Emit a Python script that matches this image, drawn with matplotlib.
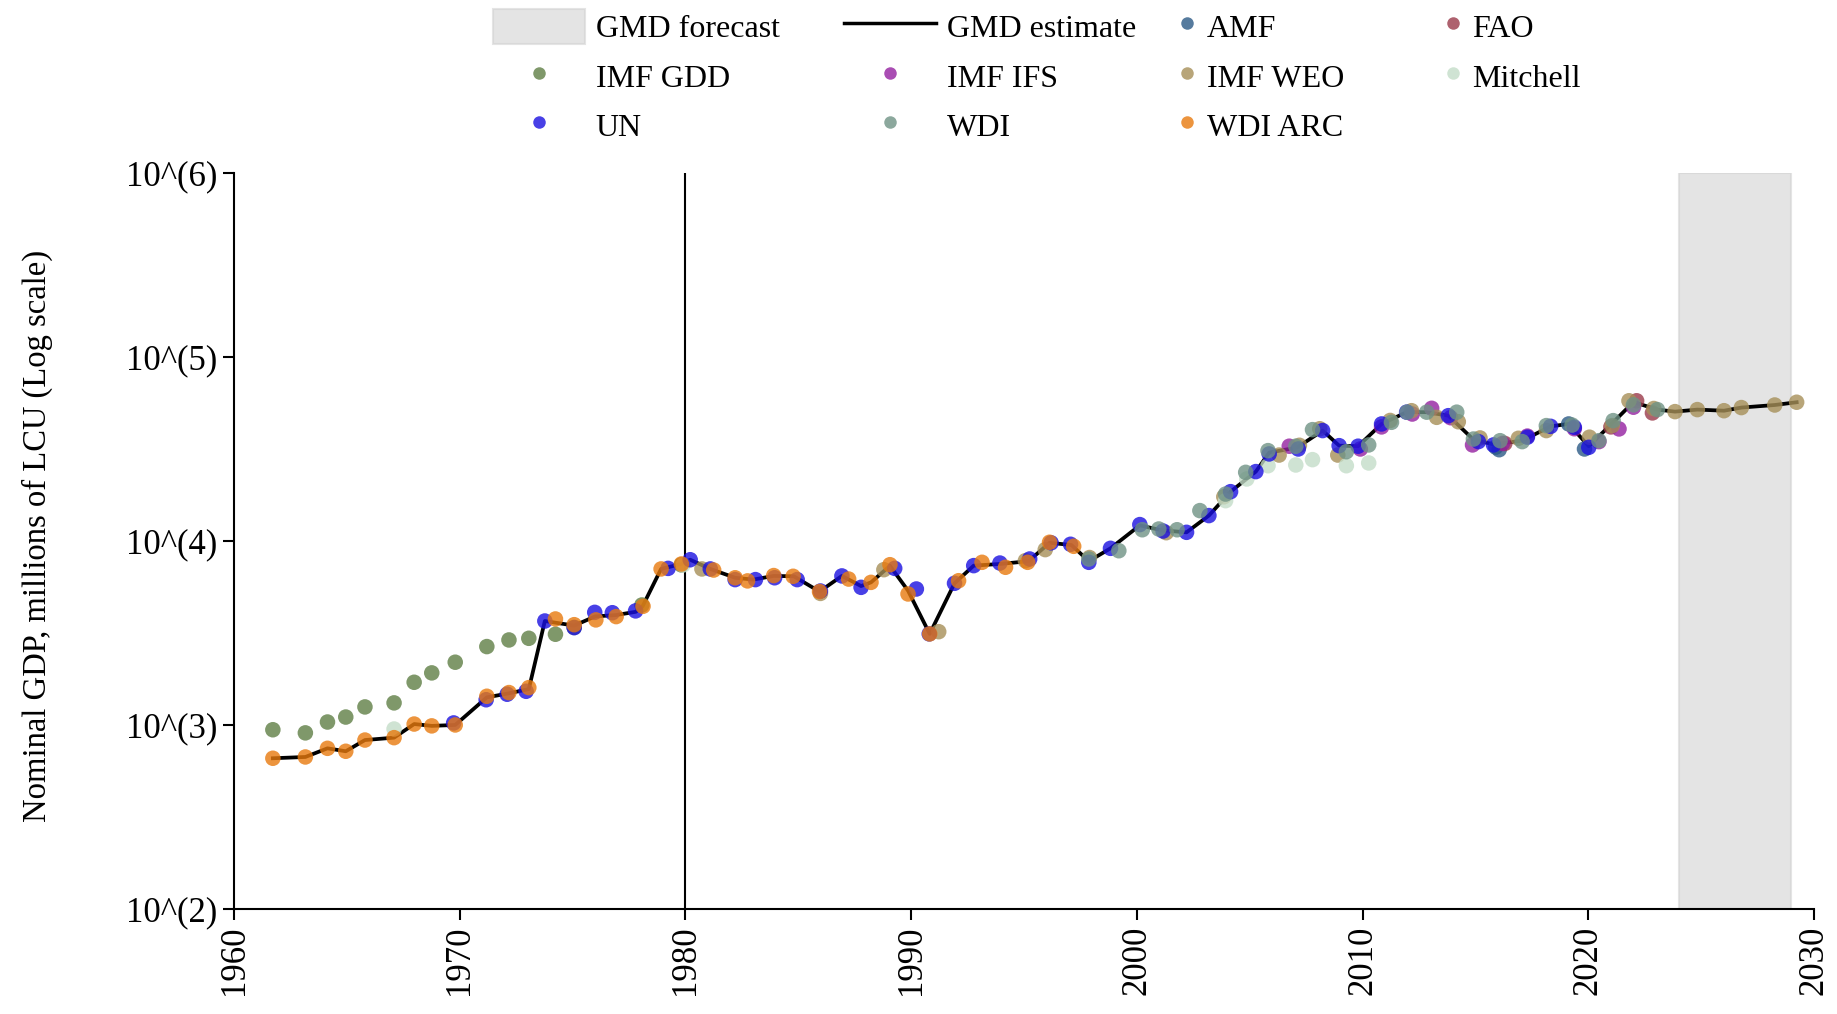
import numpy as np
import matplotlib
matplotlib.use("Agg")
import matplotlib.pyplot as plt
from matplotlib.lines import Line2D
from matplotlib.patches import Patch
from matplotlib.ticker import FixedLocator, NullLocator, FixedFormatter

plt.rcParams['font.family'] = ['Liberation Serif', 'DejaVu Serif']

# ---------------- data (x = year, y = log10 of nominal GDP, millions of LCU) ----------------
gmd_year = [1961.72, 1963.16, 1964.14, 1964.95, 1965.8, 1967.09, 1967.98, 1968.76, 1969.8, 1971.2,
            1972.18, 1973.06, 1973.77, 1975.07, 1976.0, 1976.9, 1977.8, 1978.1, 1978.92, 1979.82,
            1980.21, 1981.1, 1982.2, 1983.0, 1983.91, 1984.8, 1985.94, 1986.93, 1987.78, 1988.22,
            1989.06, 1989.86, 1990.82, 1991.92, 1992.77, 1993.93, 1995.2, 1996.13, 1997.1, 1997.87,
            1998.83, 2000.13, 2001.1, 2002.2, 2003.19, 2004.15, 2005.27, 2005.86, 2007.1, 2008.23,
            2008.96, 2009.8, 2010.84, 2011.95, 2012.84, 2013.8, 2014.91, 2015.8, 2017.07, 2018.33,
            2019.13, 2020.02, 2021.1, 2022.0, 2023.06, 2023.84, 2024.83, 2026.01, 2026.78, 2028.26,
            2029.23]
gmd_log10 = [2.819, 2.826, 2.873, 2.857, 2.918, 2.931, 3.005, 2.995, 3.0, 3.15,
             3.172, 3.195, 3.565, 3.54, 3.59, 3.597, 3.615, 3.645, 3.848, 3.875,
             3.898, 3.848, 3.80, 3.79, 3.81, 3.808, 3.725, 3.81, 3.755, 3.775,
             3.865, 3.73, 3.495, 3.77, 3.866, 3.875, 3.89, 3.99, 3.978, 3.89,
             3.96, 4.085, 4.058, 4.047, 4.138, 4.268, 4.377, 4.48, 4.508, 4.6,
             4.518, 4.515, 4.636, 4.70, 4.70, 4.681, 4.551, 4.525, 4.545, 4.623,
             4.636, 4.515, 4.645, 4.755, 4.714, 4.703, 4.714, 4.708, 4.725, 4.739,
             4.754]

amf_year = [2015.9, 2016.05, 2019.13, 2019.83]
amf_log10 = [4.51, 4.496, 4.636, 4.50]

fao_year = [2016.3, 2021.0, 2022.14, 2022.84]
fao_log10 = [4.53, 4.62, 4.762, 4.696]

imfgdd_year = [1961.72, 1963.16, 1964.14, 1964.95, 1965.8, 1967.09, 1967.98, 1968.76, 1969.8, 1971.2,
               1972.18, 1973.06, 1974.24, 1975.07, 1978.07, 1979.82]
imfgdd_log10 = [2.974, 2.957, 3.016, 3.043, 3.098, 3.12, 3.232, 3.283, 3.341, 3.426,
                3.462, 3.471, 3.493, 3.53, 3.652, 3.87]

imfifs_year = [2006.75, 2009.9, 2010.84, 2012.2, 2013.06, 2013.9, 2014.87, 2016.2, 2017.3, 2019.38,
               2020.47, 2021.36, 2022.0]
imfifs_log10 = [4.515, 4.50, 4.62, 4.69, 4.721, 4.67, 4.522, 4.53, 4.57, 4.61,
                4.54, 4.609, 4.727]

imfweo_year = [1980.73, 1985.98, 1988.79, 1991.22, 1995.06, 1995.94, 1997.9, 2001.3, 2003.85, 2006.3,
               2007.2, 2008.1, 2008.9, 2011.22, 2012.17, 2013.28, 2014.24, 2015.2, 2016.9, 2018.14,
               2020.05, 2021.06, 2021.8, 2022.9, 2023.84, 2024.83, 2026.01, 2026.78, 2028.26, 2029.23]
imfweo_log10 = [3.848, 3.715, 3.844, 3.507, 3.893, 3.953, 3.91, 4.045, 4.24, 4.467,
                4.52, 4.61, 4.467, 4.655, 4.708, 4.672, 4.648, 4.56, 4.558, 4.60,
                4.564, 4.627, 4.762, 4.72, 4.703, 4.714, 4.708, 4.725, 4.739, 4.754]

mitchell_year = [1967.09, 1979.9, 2003.93, 2004.87, 2005.81, 2007.04, 2007.78, 2009.28, 2010.27]
mitchell_log10 = [2.978, 3.87, 4.219, 4.337, 4.409, 4.413, 4.442, 4.409, 4.424]

un_year = [1969.73, 1971.17, 1972.1, 1972.94, 1973.77, 1975.07, 1975.98, 1976.76, 1977.79, 1979.23,
           1980.21, 1981.1, 1982.2, 1983.1, 1983.95, 1984.95, 1985.98, 1986.93, 1987.78, 1989.27,
           1990.23, 1990.8, 1991.92, 1992.77, 1993.93, 1995.25, 1996.2, 1997.06, 1997.87, 1998.83,
           2000.13, 2001.16, 2002.2, 2003.19, 2004.15, 2005.27, 2005.86, 2007.15, 2008.23, 2008.96,
           2009.8, 2010.84, 2011.95, 2013.8, 2015.13, 2015.8, 2017.3, 2018.33, 2019.38, 2020.02]
un_log10 = [3.011, 3.137, 3.167, 3.183, 3.565, 3.529, 3.612, 3.61, 3.62, 3.851,
            3.898, 3.848, 3.79, 3.79, 3.80, 3.79, 3.728, 3.81, 3.748, 3.851,
            3.739, 3.495, 3.77, 3.866, 3.88, 3.902, 3.99, 3.982, 3.884, 3.96,
            4.089, 4.054, 4.047, 4.138, 4.268, 4.377, 4.473, 4.50, 4.60, 4.518,
            4.515, 4.636, 4.70, 4.681, 4.54, 4.522, 4.564, 4.623, 4.618, 4.509]

wdi_year = [1997.87, 1999.2, 2000.24, 2000.97, 2001.78, 2002.79, 2003.93, 2004.82, 2005.81, 2007.04,
            2007.78, 2009.28, 2010.27, 2011.28, 2011.97, 2012.84, 2014.17, 2014.91, 2016.09, 2017.07,
            2018.14, 2019.28, 2020.47, 2021.1, 2022.0, 2023.06]
wdi_log10 = [3.902, 3.947, 4.061, 4.065, 4.061, 4.165, 4.255, 4.373, 4.491, 4.515,
             4.605, 4.485, 4.522, 4.645, 4.70, 4.70, 4.70, 4.554, 4.545, 4.54,
             4.627, 4.63, 4.545, 4.654, 4.74, 4.714]

wdiarc_year = [1961.72, 1963.16, 1964.14, 1964.95, 1965.8, 1967.09, 1967.98, 1968.76, 1969.8, 1971.2,
               1972.18, 1973.06, 1974.24, 1975.07, 1976.03, 1976.93, 1978.12, 1978.92, 1979.82, 1981.25,
               1982.2, 1982.75, 1983.91, 1984.77, 1985.94, 1987.23, 1988.22, 1989.06, 1989.86, 1990.82,
               1992.1, 1993.14, 1994.18, 1995.16, 1996.13, 1997.2]
wdiarc_log10 = [2.819, 2.826, 2.873, 2.857, 2.918, 2.931, 3.005, 2.995, 3.0, 3.156,
                3.176, 3.203, 3.576, 3.545, 3.571, 3.589, 3.645, 3.848, 3.875, 3.842,
                3.80, 3.783, 3.812, 3.808, 3.725, 3.793, 3.775, 3.871, 3.712, 3.495,
                3.784, 3.884, 3.857, 3.884, 3.993, 3.971]

forecast_start, forecast_end = 2024, 2029
vline_year = 1980
ytick_exponents = [2, 3, 4, 5, 6]
xticks = [1960, 1970, 1980, 1990, 2000, 2010, 2020, 2030]

sources = [
    ("AMF", amf_year, amf_log10, "#2c5a86"),
    ("FAO", fao_year, fao_log10, "#9a3a4a"),
    ("IMF GDD", imfgdd_year, imfgdd_log10, "#5f7f45"),
    ("IMF IFS", imfifs_year, imfifs_log10, "#9420a0"),
    ("IMF WEO", imfweo_year, imfweo_log10, "#a68f58"),
    ("Mitchell", mitchell_year, mitchell_log10, "#c4ddc8"),
    ("UN", un_year, un_log10, "#1a10e0"),
    ("WDI", wdi_year, wdi_log10, "#6f9385"),
    ("WDI ARC", wdiarc_year, wdiarc_log10, "#e87a0e"),
]
ALPHA = 0.8
FS = 23
TFS = 25

# ---------------- figure ----------------
fig = plt.figure(figsize=(18.37, 10.14), dpi=100)
ax = fig.add_axes([0.1274, 0.1036, 0.8601, 0.7258])

ax.axvspan(forecast_start, forecast_end, color="lightgray", alpha=0.6, lw=1.5, zorder=0)
ax.axvline(vline_year, color="black", lw=1.5, zorder=1)
ax.plot(gmd_year, np.power(10.0, gmd_log10), color="black", lw=2.7, zorder=2)
for i, (name, xs, ys, col) in enumerate(sources):
    ax.scatter(xs, np.power(10.0, ys), s=125, color=col, alpha=ALPHA, edgecolors="none", zorder=3 + i)

ax.set_yscale("log")
ax.set_ylim(1e2, 1e6)
ax.set_xlim(1960, 2030)
ax.yaxis.set_major_locator(FixedLocator([10.0 ** e for e in ytick_exponents]))
ax.yaxis.set_major_formatter(FixedFormatter([f"10^({e})" for e in ytick_exponents]))
ax.yaxis.set_minor_locator(NullLocator())
ax.set_xticks(xticks)
ax.set_xticklabels([str(x) for x in xticks], rotation=90)
ax.tick_params(axis="both", labelsize=TFS, length=8, width=1.5, pad=4)
for s in ("top", "right"):
    ax.spines[s].set_visible(False)
for s in ("left", "bottom"):
    ax.spines[s].set_linewidth(1.5)

ax.set_ylabel("Nominal GDP, millions of LCU (Log scale)", fontsize=23.5)
ax.yaxis.set_label_coords(-0.1146, 0.507)

# ---------------- legend ----------------
def mk(name):
    col = dict((n, c) for n, _, _, c in sources)[name]
    return Line2D([], [], marker="o", linestyle="none", markersize=9, color=col, alpha=ALPHA,
                  markeredgewidth=0, label=name)

top = 1 - 9 / 1014
hA = [Patch(facecolor="lightgray", edgecolor="lightgray", alpha=0.6, lw=1.5, label="GMD forecast"),
      mk("IMF GDD"), mk("UN"),
      Line2D([], [], color="black", lw=2.5, label="GMD estimate"),
      mk("IMF IFS"), mk("WDI")]
legA = fig.legend(handles=hA, ncol=2, loc="upper left", bbox_to_anchor=(493 / 1837, top),
                  bbox_transform=fig.transFigure, frameon=False, fontsize=FS, borderpad=0,
                  handlelength=2.88, handleheight=1.3, handletextpad=0.34, labelspacing=0.45,
                  columnspacing=2.0, borderaxespad=0)
hB = [mk("AMF"), mk("IMF WEO"), mk("WDI ARC"), mk("FAO"), mk("Mitchell")]
legB = fig.legend(handles=hB, ncol=2, loc="upper left", bbox_to_anchor=(1174 / 1837, top),
                  bbox_transform=fig.transFigure, frameon=False, fontsize=FS, borderpad=0,
                  handlelength=0.8, handleheight=1.3, handletextpad=0.22, labelspacing=0.45,
                  columnspacing=3.0, borderaxespad=0)

fig.savefig("out.png", dpi=100)
